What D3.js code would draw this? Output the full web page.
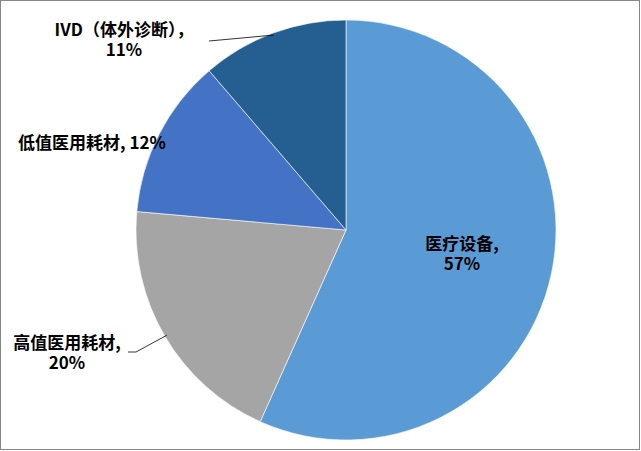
<!DOCTYPE html>
<html>
<head>
<meta charset="utf-8">
<script src="https://cdn.jsdelivr.net/npm/d3@7"></script>
<style>
	body { margin: 0; background: #fff; }
	svg { display: block; }
</style>
</head>
<body>
<svg id="chart"></svg>
<script>

var categories = ["医疗设备", "高值医用耗材", "低值医用耗材", "IVD（体外诊断）"];
var shares = [56.7, 19.7, 12.3, 11.3];
var colors = ["#5B9BD5", "#A5A5A5", "#4472C4", "#255E91"];

var width = 641,
	height = 451,
	cx = 346,
	cy = 230,
	radius = 210;

var svg = d3.select("#chart")
	.attr("width", width)
	.attr("height", height)
	.style("font-family", "'Noto Sans CJK SC', 'Noto Sans', sans-serif");

svg.append("rect")
	.attr("x", 0.5)
	.attr("y", 0.5)
	.attr("width", width - 2)
	.attr("height", height - 2)
	.attr("fill", "#fff")
	.attr("stroke", "#878787")
	.attr("stroke-width", 1);

var pie = d3.pie().sort(null).value(d => d);
var arcs = pie(shares);

var arc = d3.arc().innerRadius(0).outerRadius(radius);

var g = svg.append("g").attr("transform", "translate(" + cx + "," + cy + ")");

g.selectAll("path")
	.data(arcs)
	.join("path")
	.attr("d", arc)
	.attr("fill", (d, i) => colors[i])
	.attr("stroke", "#fff")
	.attr("stroke-width", 0.6);

var pct = i => Math.round(shares[i]) + "%";

// label layout: lines + anchor point, optional leader start
var labels = [
	{ lines: [categories[0] + ",", pct(0)], x: 462, y: 250, leader: null },
	{ lines: [categories[1] + ",", pct(1)], x: 67, y: 349, leader: [[128, 352], [136, 352]] },
	{ lines: [categories[2] + ", " + pct(2)], x: 92, y: 149, leader: null },
	{ lines: [categories[3] + "，", pct(3)], x: 124, y: 36, leader: [[209, 41]] }
];

function edgePoint(d, k) {
	var a = (d.startAngle + d.endAngle) / 2;
	return [cx + radius * k * Math.sin(a), cy - radius * k * Math.cos(a)];
}

labels.forEach(function(l, i) {
	if (l.leader) {
		var pts = l.leader.concat([edgePoint(arcs[i], 0.99)]);
		svg.append("path")
			.attr("d", d3.line()(pts))
			.attr("fill", "none")
			.attr("stroke", "#000")
			.attr("stroke-width", 0.8);
	}
	var t = svg.append("text")
		.attr("text-anchor", "middle")
		.attr("font-size", 17)
		.attr("font-weight", "bold")
		.attr("fill", "#000");
	l.lines.forEach(function(s, j) {
		t.append("tspan")
			.attr("x", l.x)
			.attr("y", l.y + j * 20)
			.text(s);
	});
});

</script>
</body>
</html>
